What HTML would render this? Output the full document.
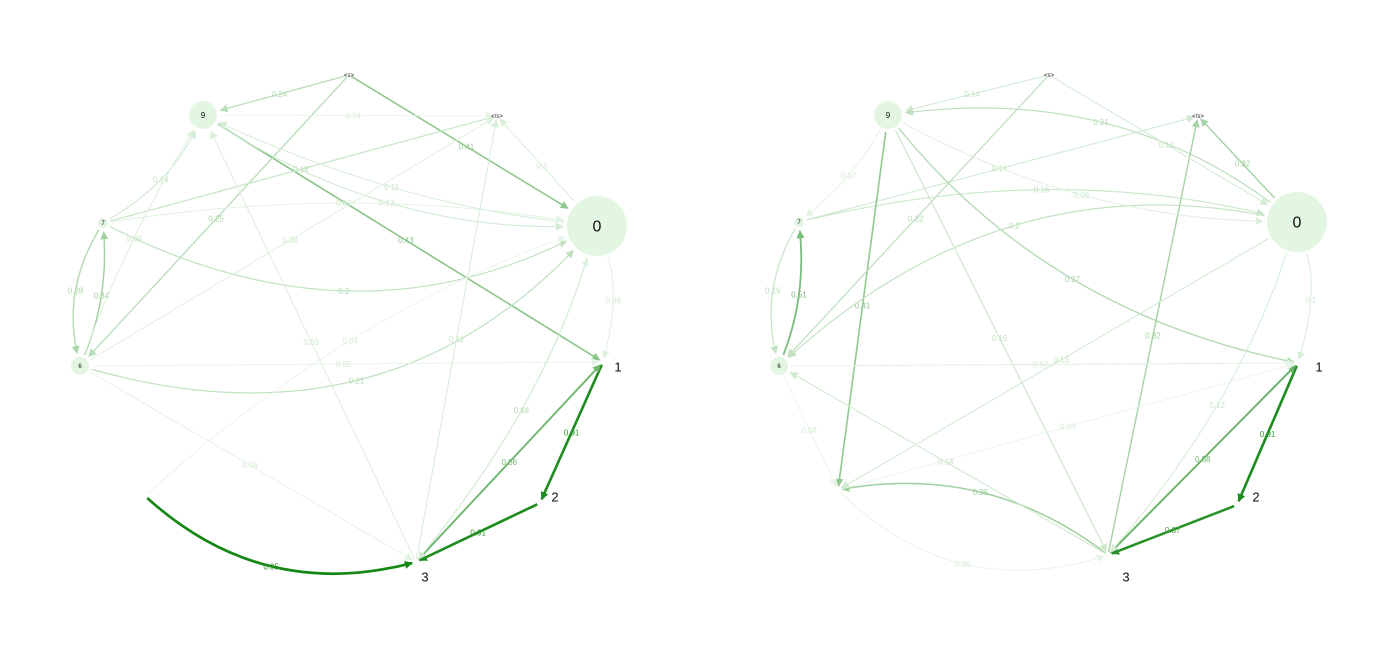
<!DOCTYPE html>
<html><head><meta charset="utf-8"><style>
html,body{margin:0;padding:0;background:#fff;width:1400px;height:650px;overflow:hidden}
svg{display:block;font-family:"Liberation Sans",sans-serif}
</style></head><body>
<svg id="chart" width="1400" height="650">
<defs></defs>
<g id="g0"></g>
<g id="g1"></g>
</svg>
<script>
// node names
const nodeNames = ["<s>","</s>","0","1","2","3","4","6","7","9"];
const nodeSize = [0,0,30,0,0,0,0,9,5,14];
const nodeLabelSize = [6,6,16,13,13,13,0,6,6,8];
// left graph edges: [from, to, weight, curvature]
const leftEdges = [
["<s>","9",0.24,0],["<s>","0",0.41,0],["9","1",0.43,0],["<s>","6",0.25,0],
["7","</s>",0.18,0],["7","9",0.14,-0.15],["7","6",0.28,-0.2],["6","7",0.34,-0.12],
["7","0",0.2,-0.25],["6","0",0.21,-0.3],["9","0",0.13,-0.15],["0","</s>",0.1,0],
["1","2",0.91,0],["2","3",0.91,0],["3","1",0.56,0],["4","3",0.95,-0.27],
["0","9",0.11,0.08],["9","</s>",0.04,0],["6","9",0.09,0.05],["6","</s>",0.08,0],
["7","0",0.07,0.08],["3","9",0.09,0],["3","</s>",0.11,0],["0","1",0.08,0.15],
["3","0",0.05,-0.1],["6","1",0.05,0],["6","3",0.06,0],["4","0",0.04,0.1],["0","3",0.14,0.1]
];
// right graph edges
const rightEdges = [
["<s>","9",0.14,0],["0","9",0.21,-0.2],["0","</s>",0.32,0],["7","</s>",0.14,0],
["7","0",0.16,0.12],["6","7",0.51,-0.12],["7","6",0.19,-0.2],["9","1",0.27,-0.18],
["9","4",0.41,0],["<s>","6",0.22,0],["9","3",0.16,0],["3","</s>",0.32,0],
["3","4",0.35,-0.22],["3","6",0.14,0],["1","2",0.91,0],["2","3",0.87,0],["3","1",0.58,0],
["0","6",0.2,-0.25],["0","4",0.13,0],["9","0",0.08,-0.12],["6","1",0.07,0],["0","1",0.1,0.15],
["<s>","0",0.12,0],["4","3",0.05,-0.3],["6","4",0.04,0],["4","1",0.04,0],["0","3",0.12,0.1],["9","7",0.07,0.1]
];
const layouts = [
{"<s>":[349,75],"</s>":[497,116],"0":[597,226],"1":[603,362],"2":[540,503],"3":[416,562],"4":[145,496],"6":[80,366],"7":[103,223],"9":[203,115]},
{"<s>":[1049,75],"</s>":[1198,116],"0":[1297,222],"1":[1298,363],"2":[1237,505],"3":[1108,555],"4":[838,490],"6":[779,366],"7":[799,222],"9":[888,115]}
];
const labelPos = [
{"1":[618,367],"2":[555,497],"3":[425,577]},
{"1":[1319,367],"2":[1256,497],"3":[1126,577]}
];
const NS="http://www.w3.org/2000/svg";
function col(w){
  const a=[240,250,240], b=[20,135,20];
  const t=Math.min(1,w*1.05);
  return `rgb(${a.map((v,i)=>Math.round(v+(b[i]-v)*t)).join(",")})`;
}
const defs=document.querySelector("defs");
function marker(id,c){
  const m=document.createElementNS(NS,"marker");
  m.setAttribute("id",id);m.setAttribute("viewBox","0 0 10 10");m.setAttribute("refX","9");m.setAttribute("refY","5");
  m.setAttribute("markerWidth","9");m.setAttribute("markerHeight","8");m.setAttribute("orient","auto");m.setAttribute("markerUnits","userSpaceOnUse");
  const p=document.createElementNS(NS,"path");p.setAttribute("d","M0,0 L10,5 L0,10 z");p.setAttribute("fill",c);
  m.appendChild(p);defs.appendChild(m);
}
function draw(gi,edges){
  const g=document.getElementById("g"+gi), L=layouts[gi];
  edges.forEach((e,i)=>{
    const [f,t,w,c]=e; const A=L[f],B=L[t];
    const ra=nodeSize[nodeNames.indexOf(f)]+3, rb=nodeSize[nodeNames.indexOf(t)]+4;
    let dx=B[0]-A[0],dy=B[1]-A[1],d=Math.hypot(dx,dy);
    const ux=dx/d,uy=dy/d;
    const mx=(A[0]+B[0])/2 + uy*c*d, my=(A[1]+B[1])/2 - ux*c*d;
    const sa=Math.hypot(mx-A[0],my-A[1]), sb=Math.hypot(mx-B[0],my-B[1]);
    const x1=A[0]+(mx-A[0])/sa*ra, y1=A[1]+(my-A[1])/sa*ra;
    const x2=B[0]+(mx-B[0])/sb*rb, y2=B[1]+(my-B[1])/sb*rb;
    const cl=col(w), id="m"+gi+"_"+i; marker(id,cl);
    const p=document.createElementNS(NS,"path");
    p.setAttribute("d",`M${x1},${y1} Q${mx},${my} ${x2},${y2}`);
    p.setAttribute("fill","none");p.setAttribute("stroke",cl);
    p.setAttribute("stroke-width",(0.8+w*2).toFixed(2));
    p.setAttribute("marker-end",`url(#${id})`);
    
    
    g.appendChild(p);
    const lx=0.25*x1+0.5*mx+0.25*x2, ly=0.25*y1+0.5*my+0.25*y2;
    const tx=document.createElementNS(NS,"text");
    tx.setAttribute("x",lx);tx.setAttribute("y",ly+3);tx.setAttribute("text-anchor","middle");
    tx.setAttribute("font-size","8");tx.setAttribute("fill",col(Math.min(1,w*0.8+0.08)));
    tx.textContent=String(w);
    
    
    g.appendChild(tx);
  });
  nodeNames.forEach((n,k)=>{
    const [x,y]=L[n];
    if(nodeSize[k]>0){
      const ci=document.createElementNS(NS,"circle");
      ci.setAttribute("cx",x);ci.setAttribute("cy",y);ci.setAttribute("r",nodeSize[k]);ci.setAttribute("fill","#e3f6e1");
      
      
      g.appendChild(ci);
    }
    if(nodeLabelSize[k]>0){
      const lp=labelPos[gi][n]||[x,y];
      const tx=document.createElementNS(NS,"text");
      tx.setAttribute("x",lp[0]);tx.setAttribute("y",lp[1]+nodeLabelSize[k]*0.35);
      tx.setAttribute("text-anchor","middle");tx.setAttribute("font-size",nodeLabelSize[k]);tx.setAttribute("fill","#111");
      tx.textContent=n;
      
      
      g.appendChild(tx);
    }
  });
}
draw(0,leftEdges);
draw(1,rightEdges);
</script>
</body></html>
